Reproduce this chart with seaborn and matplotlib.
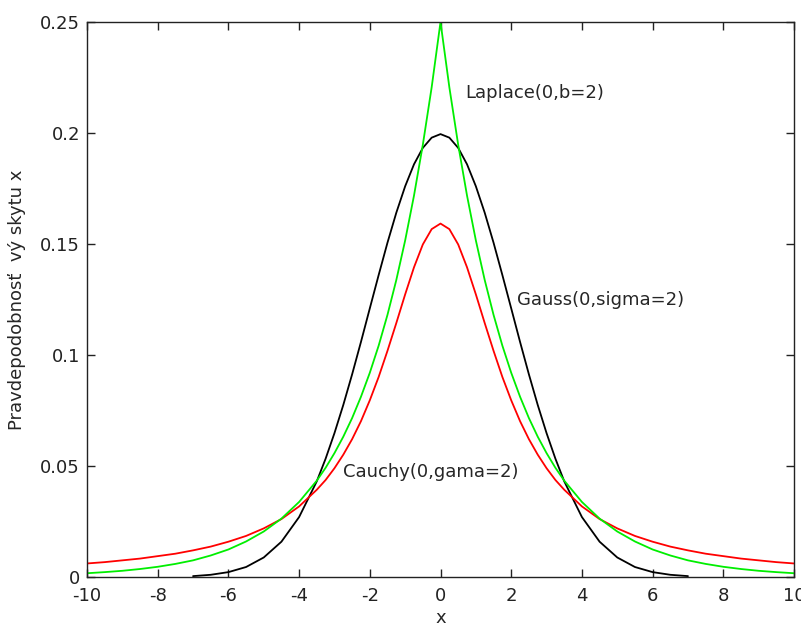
import matplotlib
matplotlib.use("Agg")
import matplotlib.pyplot as plt
import seaborn as sns
import pandas as pd

# x positions on the right half; left half is mirrored
x_half = [0, 0.25, 0.5, 0.75, 1, 1.25, 1.5, 1.75, 2, 2.25, 2.5, 2.75, 3, 3.25, 3.5,
          4, 4.5, 5, 5.5, 6, 6.5, 7, 7.5, 8, 8.5, 9, 9.5, 10]

laplace_half = [0.2500, 0.2206, 0.1947, 0.1718, 0.1516, 0.1338, 0.1181, 0.1042,
                0.0920, 0.0812, 0.0716, 0.0632, 0.0558, 0.0492, 0.0434,
                0.0338, 0.0263, 0.0205, 0.0160, 0.0124, 0.0097, 0.0075, 0.0059,
                0.0046, 0.0036, 0.0028, 0.0022, 0.0017]
cauchy_half = [0.1592, 0.1567, 0.1498, 0.1395, 0.1273, 0.1144, 0.1019, 0.0901,
               0.0796, 0.0702, 0.0621, 0.0551, 0.0490, 0.0437, 0.0393,
               0.0318, 0.0261, 0.0219, 0.0185, 0.0159, 0.0137, 0.0120, 0.0105,
               0.0094, 0.0083, 0.0075, 0.0067, 0.0061]
# gauss curve is only drawn out to |x| = 7
gauss_half = [0.1995, 0.1979, 0.1933, 0.1859, 0.1760, 0.1641, 0.1506, 0.1360,
              0.1210, 0.1059, 0.0913, 0.0775, 0.0648, 0.0533, 0.0431,
              0.0270, 0.0159, 0.0088, 0.0045, 0.0022, 0.0010, 0.0004]


def mirror(xs, ys):
    n = len(ys)
    xs = xs[:n]
    return [-v for v in xs[:0:-1]] + xs, ys[:0:-1] + ys


rows = []
for name, ys in [("Gauss", gauss_half), ("Cauchy", cauchy_half), ("Laplace", laplace_half)]:
    xs, yy = mirror(x_half, ys)
    for xv, yv in zip(xs, yy):
        rows.append({"x": xv, "y": yv, "dist": name})
df = pd.DataFrame(rows)

sns.set_style("ticks")
plt.rcParams['font.family'] = ['DejaVu Sans']
plt.rcParams['axes.unicode_minus'] = False

fig = plt.figure(figsize=(8.01, 6.28), dpi=100)
ax = fig.add_axes([0.1086, 0.0812, 0.8827, 0.8838])

sns.lineplot(data=df, x="x", y="y", hue="dist",
             palette={"Gauss": "black", "Cauchy": "#ff0000", "Laplace": "#00ee00"},
             linewidth=1.3, legend=False, ax=ax, sort=False)

ax.set_xlim(-10, 10)
ax.set_ylim(0, 0.25)
ax.set_xticks(range(-10, 11, 2))
ax.set_yticks([0, 0.05, 0.1, 0.15, 0.2, 0.25])
ax.set_yticklabels(["0", "0.05", "0.1", "0.15", "0.2", "0.25"])
ax.tick_params(direction="in", top=True, right=True, length=6, width=1,
               labelsize=13, colors="#222222")
ax.tick_params(axis="x", pad=7)
ax.tick_params(axis="y", pad=5)
for s in ax.spines.values():
    s.set_linewidth(1.0)
    s.set_color("#222222")

ax.set_xlabel("x", fontsize=13, labelpad=3)
ax.set_ylabel("Pravdepodobnosť  vý skytu x", fontsize=13, labelpad=10)

ax.text(0.69, 0.218, "Laplace(0,b=2)", fontsize=13, va="center")
ax.text(2.16, 0.1248, "Gauss(0,sigma=2)", fontsize=13, va="center")
ax.text(-2.76, 0.0473, "Cauchy(0,gama=2)", fontsize=13, va="center")

fig.savefig("out.png", dpi=100)
